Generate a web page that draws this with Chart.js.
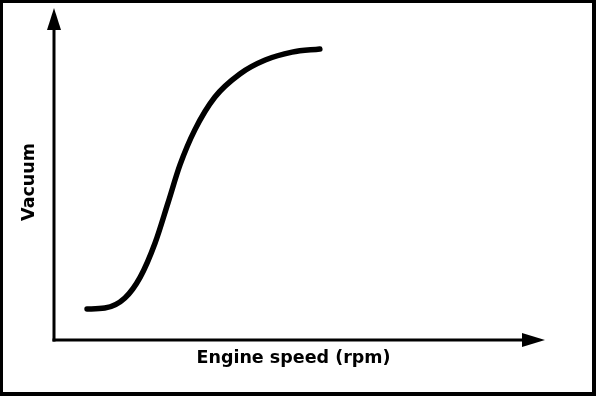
<!DOCTYPE html>
<html>
<head>
<meta charset="utf-8">
<script src="https://cdn.jsdelivr.net/npm/chart.js@4/dist/chart.umd.min.js"></script>
<style>
    html, body { margin: 0; padding: 0; background: #ffffff; }
    #wrap { width: 608px; height: 396px; position: relative; }
</style>
</head>
<body>
<div id="wrap"><canvas id="vacuumChart"></canvas></div>
<script>
// Curva de vacío frente a régimen del motor (unidades relativas 0-100)
const engineSpeed = [6.9, 10.6, 14.8, 18.0, 21.1, 23.8, 26.3, 29.4, 33.6, 38.8, 44.1, 49.7, 55.5];
const vacuum      = [9.8, 10.1, 13.3, 19.9, 30.7, 43.4, 55.4, 66.5, 76.9, 84.2, 88.6, 91.1, 92.1];

const xTitle = 'Engine speed (rpm)';
const yTitle = 'Vacuum';

const FONT = { family: "'DejaVu Sans', sans-serif", size: 17.5, weight: 'bold' };

// Ejes con flechas y marco exterior
const axesPlugin = {
    id: 'axesArrows',
    afterDraw(chart) {
        const { ctx, chartArea: a, height } = chart;
        ctx.save();
        ctx.fillStyle = '#000000';
        ctx.strokeStyle = '#000000';

        // marco
        ctx.fillRect(0, 0, 596, 3);
        ctx.fillRect(0, 0, 3, height);
        ctx.fillRect(592, 0, 4, height);
        ctx.fillRect(0, 392, 596, 4);

        // eje Y
        ctx.lineWidth = 3;
        ctx.beginPath();
        ctx.moveTo(a.left, a.top + 4);
        ctx.lineTo(a.left, a.bottom + 1.5);
        ctx.stroke();
        ctx.beginPath();
        ctx.moveTo(a.left, a.top - 16);
        ctx.lineTo(a.left - 7, a.top + 6);
        ctx.lineTo(a.left + 7, a.top + 6);
        ctx.closePath();
        ctx.fill();

        // eje X
        ctx.beginPath();
        ctx.moveTo(a.left - 1.5, a.bottom);
        ctx.lineTo(a.right - 9, a.bottom);
        ctx.stroke();
        ctx.beginPath();
        ctx.moveTo(a.right + 12, a.bottom);
        ctx.lineTo(a.right - 11, a.bottom - 7);
        ctx.lineTo(a.right - 11, a.bottom + 7);
        ctx.closePath();
        ctx.fill();
        ctx.restore();
    }
};

new Chart(document.getElementById('vacuumChart'), {
    type: 'scatter',
    data: {
        datasets: [{
            data: engineSpeed.map((x, i) => ({ x, y: vacuum[i] })),
            showLine: true,
            borderColor: '#000000',
            borderWidth: 5.5,
            borderCapStyle: 'round',
            borderJoinStyle: 'round',
            cubicInterpolationMode: 'monotone',
            pointRadius: 0,
            pointHoverRadius: 0,
            fill: false
        }]
    },
    options: {
        responsive: true,
        maintainAspectRatio: false,
        animation: false,
        layout: { padding: { left: 0, right: 75, top: 24, bottom: 0 } },
        plugins: {
            legend: { display: false },
            tooltip: { enabled: false }
        },
        scales: {
            x: {
                type: 'linear',
                min: 0,
                max: 100,
                grid: { display: false, drawTicks: false },
                border: { display: false },
                ticks: { display: false },
                title: {
                    display: true,
                    text: xTitle,
                    color: '#000000',
                    font: FONT,
                    padding: { top: 0, bottom: 27 }
                },
                afterFit(scale) { scale.height = 56; }
            },
            y: {
                type: 'linear',
                min: 0,
                max: 100,
                grid: { display: false, drawTicks: false },
                border: { display: false },
                ticks: { display: false },
                title: {
                    display: true,
                    text: yTitle,
                    color: '#000000',
                    font: FONT,
                    padding: { top: 19, bottom: 0 }
                },
                afterFit(scale) { scale.width = 54; }
            }
        }
    },
    plugins: [axesPlugin]
});
</script>
</body>
</html>
